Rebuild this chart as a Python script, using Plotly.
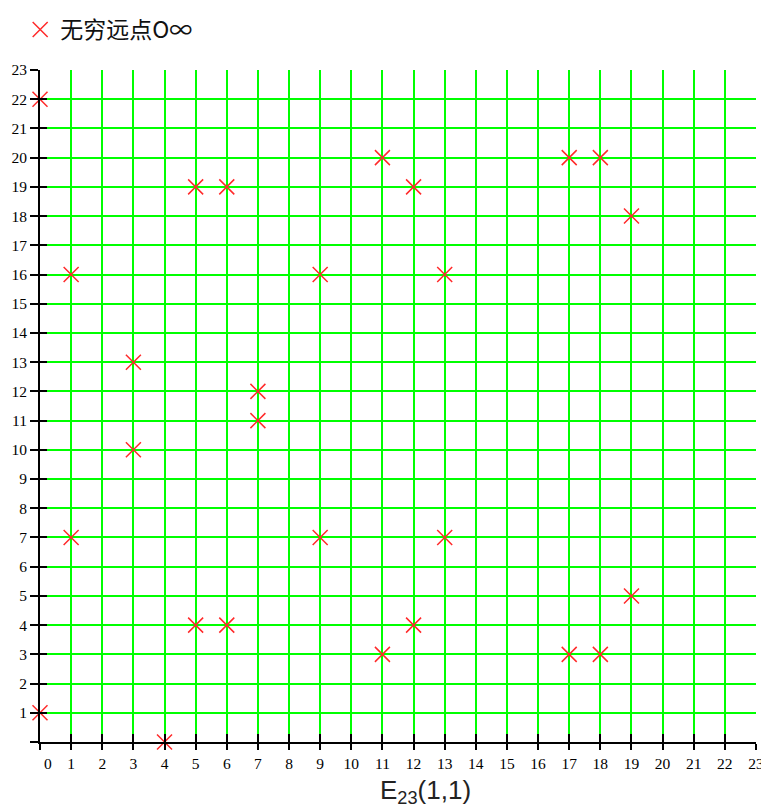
import plotly.graph_objects as go

# Points of the elliptic curve E23(1,1): y^2 = x^3 + x + 1 (mod 23)
xs = [0, 0, 1, 1, 3, 3, 4, 5, 5, 6, 6, 7, 7, 9, 9, 11, 11, 12, 12, 13, 13, 17, 17, 18, 18, 19, 19]
ys = [1, 22, 7, 16, 10, 13, 0, 4, 19, 4, 19, 11, 12, 7, 16, 3, 20, 4, 19, 7, 16, 3, 20, 3, 20, 5, 18]

tick_vals = list(range(0, 24))
x_tick_text = ["\u00a0\u00a0\u00a0\u00a00"] + [str(v) for v in range(1, 24)]
y_tick_text = ["\u00a0"] + [str(v) for v in range(1, 24)]

legend_name = "无穷远点O∞"
x_title = "E<sub>23</sub>(1,1)"

fig = go.Figure()
fig.add_trace(go.Scatter(
    x=xs, y=ys, mode="markers", name=legend_name,
    marker=dict(symbol="x-thin", size=15, line=dict(color="#ff2a2a", width=1.5), color="#ff2a2a"),
    showlegend=True, cliponaxis=False,
))
# placeholder trace so the overlay axes (used for the inner half of the ticks) are drawn
fig.add_trace(go.Scatter(x=[None], y=[None], xaxis="x2", yaxis="y2", mode="markers",
                         showlegend=False, hoverinfo="skip"))

tick_font = dict(family="Liberation Serif", size=15.5, color="black")

fig.update_layout(
    width=761, height=800,
    margin=dict(l=32, r=13, t=62, b=66, autoexpand=False),
    paper_bgcolor="white", plot_bgcolor="white",
    showlegend=True,
    legend=dict(xref="container", yref="container", x=0.016, y=1.0, xanchor="left", yanchor="top",
                font=dict(family="Noto Sans CJK SC", size=23, color="#111111"),
                bgcolor="rgba(0,0,0,0)", itemwidth=30),
    annotations=[dict(text=x_title, xref="paper", yref="paper", x=0.539, y=-0.0744,
                      xanchor="center", yanchor="middle", showarrow=False,
                      font=dict(family="Liberation Sans", size=26, color="#222222"))],
    xaxis=dict(range=[0, 23], tickmode="array", tickvals=tick_vals, ticktext=x_tick_text,
               showgrid=True, gridcolor="#00ff00", gridwidth=2,
               showline=True, linecolor="black", linewidth=2,
               ticks="outside", ticklen=6, tickwidth=2, tickcolor="black",
               zeroline=False, tickfont=tick_font, automargin=False),
    yaxis=dict(range=[0, 23], tickmode="array", tickvals=tick_vals, ticktext=y_tick_text,
               showgrid=True, gridcolor="#00ff00", gridwidth=2,
               showline=True, linecolor="black", linewidth=2,
               ticks="outside", ticklen=8, tickwidth=2, tickcolor="black",
               zeroline=False, tickfont=tick_font, automargin=False),
    xaxis2=dict(range=[0, 23], overlaying="x", side="bottom", tickmode="array", tickvals=tick_vals,
                showticklabels=False, showgrid=False, zeroline=False, automargin=False,
                ticks="inside", ticklen=8, tickwidth=2, tickcolor="black", showline=False),
    yaxis2=dict(range=[0, 23], overlaying="y", side="left", tickmode="array", tickvals=tick_vals,
                showticklabels=False, showgrid=False, zeroline=False, automargin=False,
                ticks="inside", ticklen=7, tickwidth=2, tickcolor="black", showline=False),
)

fig.write_html("out.html")
